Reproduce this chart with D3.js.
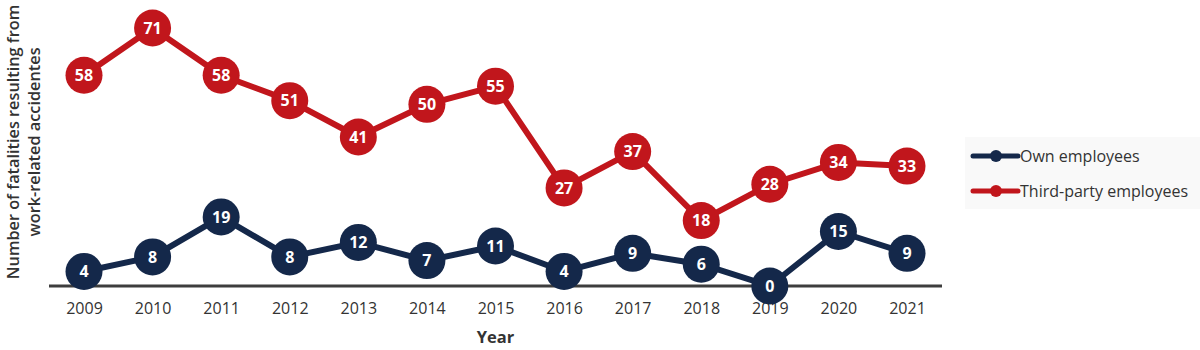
<!DOCTYPE html>
<html>
<head>
<meta charset="utf-8">
<script src="https://cdn.jsdelivr.net/npm/d3@7"></script>
<style>
  html, body { margin: 0; padding: 0; background: #ffffff; }
  svg { display: block; }
</style>
</head>
<body>
<svg id="chart" width="1200" height="350"></svg>
<script>
// Fatalities from work-related accidents, by year
const years = ["2009","2010","2011","2012","2013","2014","2015","2016","2017","2018","2019","2020","2021"];
const ownEmployees = [4, 8, 19, 8, 12, 7, 11, 4, 9, 6, 0, 15, 9];
const thirdParty = [58, 71, 58, 51, 41, 50, 55, 27, 37, 18, 28, 34, 33];
const seriesNames = ["Own employees", "Third-party employees"];
const seriesColors = ["#14284a", "#c1161c"];

const font = "'Open Sans', Lato, sans-serif";
const svg = d3.select("#chart");

const x = d3.scalePoint().domain(years).range([84, 907]);
const y = d3.scaleLinear().domain([0, 71]).range([286, 28]);

// baseline axis with year labels
const xAxis = d3.axisBottom(x).tickSize(0).tickPadding(17);
const gx = svg.append("g").attr("transform", "translate(0,286)").call(xAxis);
gx.select(".domain").remove();
gx.selectAll("text")
  .attr("font-family", font).attr("font-size", 16).attr("fill", "#333");
svg.append("line")
  .attr("x1", 49).attr("x2", 942).attr("y1", 286).attr("y2", 286)
  .attr("stroke", "#3d3d3d").attr("stroke-width", 3);

// axis titles
svg.append("text")
  .attr("x", (49 + 942) / 2).attr("y", 343)
  .attr("text-anchor", "middle")
  .attr("font-family", font).attr("font-size", 16.5).attr("font-weight", "bold")
  .attr("fill", "#333").text("Year");

const yTitle = svg.append("text")
  .attr("transform", "translate(19,142) rotate(-90)")
  .attr("text-anchor", "middle")
  .attr("font-family", font).attr("font-size", 16.3).attr("font-weight", 600)
  .attr("fill", "#333");
yTitle.append("tspan").attr("x", 0).attr("dy", 0).text("Number of fatalities resulting from");
yTitle.append("tspan").attr("x", 0).attr("dy", 21).text("work-related accidentes");

const line = d3.line().x((d, i) => x(years[i])).y(d => y(d));

[ownEmployees, thirdParty].forEach((values, s) => {
  const g = svg.append("g");
  g.append("path")
    .datum(values)
    .attr("d", line)
    .attr("fill", "none")
    .attr("stroke", seriesColors[s])
    .attr("stroke-width", 6)
    .attr("stroke-linejoin", "round");
  const pts = g.selectAll("g.pt").data(values).join("g")
    .attr("class", "pt")
    .attr("transform", (d, i) => `translate(${x(years[i])},${y(d)})`);
  pts.append("circle")
    .attr("r", 18.5)
    .attr("fill", seriesColors[s]);
  pts.append("text")
    .attr("text-anchor", "middle")
    .attr("dy", "0.36em")
    .attr("font-family", font).attr("font-size", 16).attr("font-weight", "bold")
    .attr("fill", "#ffffff")
    .text(d => d);
});

// legend
const legend = svg.append("g");
legend.append("rect")
  .attr("x", 965).attr("y", 137).attr("width", 235).attr("height", 72)
  .attr("fill", "#f9f9f9");
seriesNames.forEach((name, i) => {
  const ly = 156 + i * 35;
  legend.append("line")
    .attr("x1", 973).attr("x2", 1018).attr("y1", ly).attr("y2", ly)
    .attr("stroke", seriesColors[i]).attr("stroke-width", 5)
    .attr("stroke-linecap", "round");
  legend.append("circle")
    .attr("cx", 996).attr("cy", ly).attr("r", 6)
    .attr("fill", seriesColors[i]);
  legend.append("text")
    .attr("x", 1020).attr("y", ly).attr("dy", "0.35em")
    .attr("font-family", font).attr("font-size", 16)
    .attr("fill", "#333").text(name);
});
</script>
</body>
</html>
